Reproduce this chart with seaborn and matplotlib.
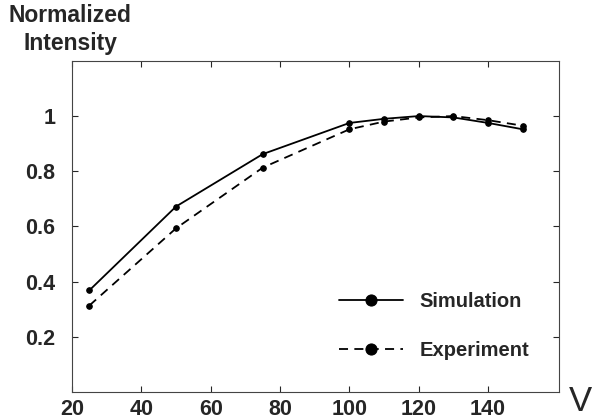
import pandas as pd
import matplotlib.pyplot as plt
import seaborn as sns

voltage = [25, 50, 75, 100, 110, 120, 130, 140, 150]
simulation = [0.368, 0.672, 0.862, 0.975, 0.99, 1.0, 0.995, 0.975, 0.952]
experiment = [0.313, 0.593, 0.813, 0.952, 0.98, 0.995, 1.0, 0.985, 0.965]

data = pd.concat([
    pd.DataFrame({"V": voltage, "value": simulation, "series": "Simulation"}),
    pd.DataFrame({"V": voltage, "value": experiment, "series": "Experiment"}),
])

sns.set_style("ticks")
plt.rcParams["font.family"] = ["Liberation Sans", "DejaVu Sans"]
plt.rcParams["font.weight"] = "bold"

fig = plt.figure(figsize=(6, 4.2), dpi=100)
ax = fig.add_axes([0.12, 0.067, 0.812, 0.788])

sns.lineplot(data=data, x="V", y="value", style="series", hue="series",
             palette=["black", "black"], dashes=[(None, None), (5, 3.5)],
             markers=["o", "o"], markersize=4, linewidth=1.3,
             markeredgecolor="black", ax=ax)

ax.set_xlim(20, 160.5)
ax.set_ylim(0, 1.2)
ax.set_xticks([20, 40, 60, 80, 100, 120, 140])
ax.set_yticks([0.2, 0.4, 0.6, 0.8, 1.0])
ax.set_yticklabels(["0.2", "0.4", "0.6", "0.8", "1"])
ax.tick_params(direction="in", top=True, right=True, length=4, width=0.8,
               labelsize=15.5)
ax.tick_params(axis="x", pad=5)
ax.tick_params(axis="y", pad=12)
for lab in ax.get_xticklabels() + ax.get_yticklabels():
    lab.set_fontweight("bold")
for s in ax.spines.values():
    s.set_linewidth(0.8)
    s.set_color("#444444")

ax.set_xlabel("")
ax.set_ylabel("")
fig.text(0.117, 0.93, "Normalized\nIntensity", ha="center", va="center",
         fontsize=16.5, fontweight="bold", linespacing=1.25)
fig.text(0.967, 0.045, "V", ha="center", va="center", fontsize=25,
         fontweight="normal")

leg = ax.legend(loc="lower right", frameon=False, fontsize=14.5,
                handlelength=3.2, markerscale=2.0, labelspacing=1.5,
                bbox_to_anchor=(0.975, 0.04))
for t in leg.get_texts():
    t.set_fontweight("bold")

fig.savefig("out.png", dpi=100)
